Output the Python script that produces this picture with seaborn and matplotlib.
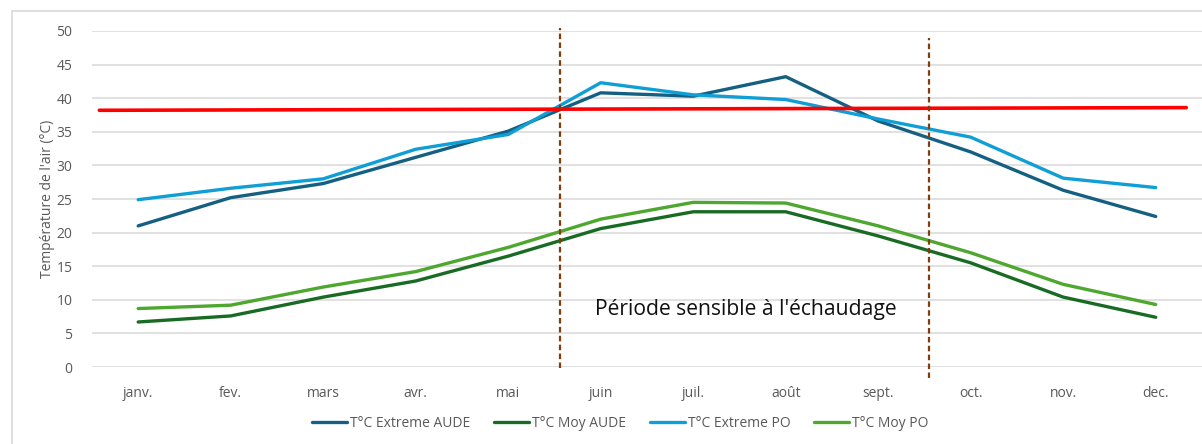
"""Températures mensuelles de l'air (Aude / PO) et période sensible à l'échaudage"""
import matplotlib
matplotlib.use("Agg")
import matplotlib.pyplot as plt
import seaborn as sns
import pandas as pd

mois = ["janv.", "fev.", "mars", "avr.", "mai", "juin",
        "juil.", "août", "sept.", "oct.", "nov.", "dec."]

extreme_aude = [21.0, 25.2, 27.3, 31.2, 35.1, 40.8, 40.3, 43.2, 36.6, 32.0, 26.3, 22.4]
moy_aude = [6.7, 7.6, 10.4, 12.8, 16.5, 20.6, 23.1, 23.1, 19.5, 15.5, 10.4, 7.4]
extreme_po = [24.9, 26.6, 28.0, 32.4, 34.6, 42.3, 40.5, 39.8, 36.9, 34.2, 28.1, 26.7]
moy_po = [8.7, 9.2, 11.9, 14.2, 17.8, 22.0, 24.5, 24.4, 21.0, 17.0, 12.3, 9.3]

# seuil d'échaudage (ligne rouge, légèrement inclinée)
seuil = [38.2, 38.6]
# bornes de la période sensible (en position de mois)
periode = [4.56, 8.55]

series = {
    "T°C Extreme AUDE": extreme_aude,
    "T°C Moy AUDE": moy_aude,
    "T°C Extreme PO": extreme_po,
    "T°C Moy PO": moy_po,
}
palette = {
    "T°C Extreme AUDE": "#156082",
    "T°C Moy AUDE": "#196B24",
    "T°C Extreme PO": "#0F9ED5",
    "T°C Moy PO": "#4EA72E",
}

df = pd.concat(
    [pd.DataFrame({"mois": range(len(mois)), "temp": v, "serie": k}) for k, v in series.items()],
    ignore_index=True,
)

sns.set_theme(style="white")
plt.rcParams["font.family"] = ["Open Sans", "DejaVu Sans"]

fig = plt.figure(figsize=(12.02, 4.44), dpi=100)
ax = fig.add_axes([0.0765, 0.1734, 0.9235, 0.7568])

# cadre gris du graphique
fig.patches.append(plt.Rectangle((0.01, -0.1), 1.1, 1.075, transform=fig.transFigure,
                                 fill=False, edgecolor="#D9D9D9", linewidth=1.2))

sns.lineplot(data=df, x="mois", y="temp", hue="serie", palette=palette,
             linewidth=2.4, ax=ax, legend=True, zorder=3)

ax.plot([-0.42, 11.33], seuil, color="#FF0000", linewidth=2.6, zorder=4)

ax.vlines(periode[0], -0.1, 50.4, colors="#843C0C", linestyles=(0, (2.5, 1.5)),
          linewidth=1.6, clip_on=False, zorder=5)
ax.vlines(periode[1], -1.7, 49.0, colors="#843C0C", linestyles=(0, (2.5, 1.5)),
          linewidth=1.6, clip_on=False, zorder=5)

ax.text(4.94, 8.6, "Période sensible à l'échaudage", fontsize=15.2,
        color="#111111", ha="left", va="center", zorder=6)

ax.set_xlim(-0.5, 11.5)
ax.set_ylim(0, 50)
ax.set_yticks(range(0, 51, 5))
ax.set_xticks(range(len(mois)))
ax.set_xticklabels(mois)
ax.yaxis.grid(True, color="#D9D9D9", linewidth=1.1)
ax.set_axisbelow(True)
sns.despine(ax=ax, left=True, bottom=True, top=True, right=True)
ax.tick_params(axis="both", length=0, labelsize=10, labelcolor="#595959")
ax.tick_params(axis="x", pad=14)
ax.tick_params(axis="y", pad=14)
ax.set_xlabel("")
ax.set_ylabel("Température de l'air (°C)", fontsize=10, color="#595959", labelpad=1)

handles, labels = ax.get_legend_handles_labels()
ax.legend_.remove()
fig.legend(handles, labels, loc="center", bbox_to_anchor=(0.516, 0.047), ncol=4,
           frameon=False, fontsize=10, handlelength=2.5, handletextpad=0.2,
           columnspacing=1.75, labelcolor="#595959")

fig.savefig("out.png", dpi=100)
